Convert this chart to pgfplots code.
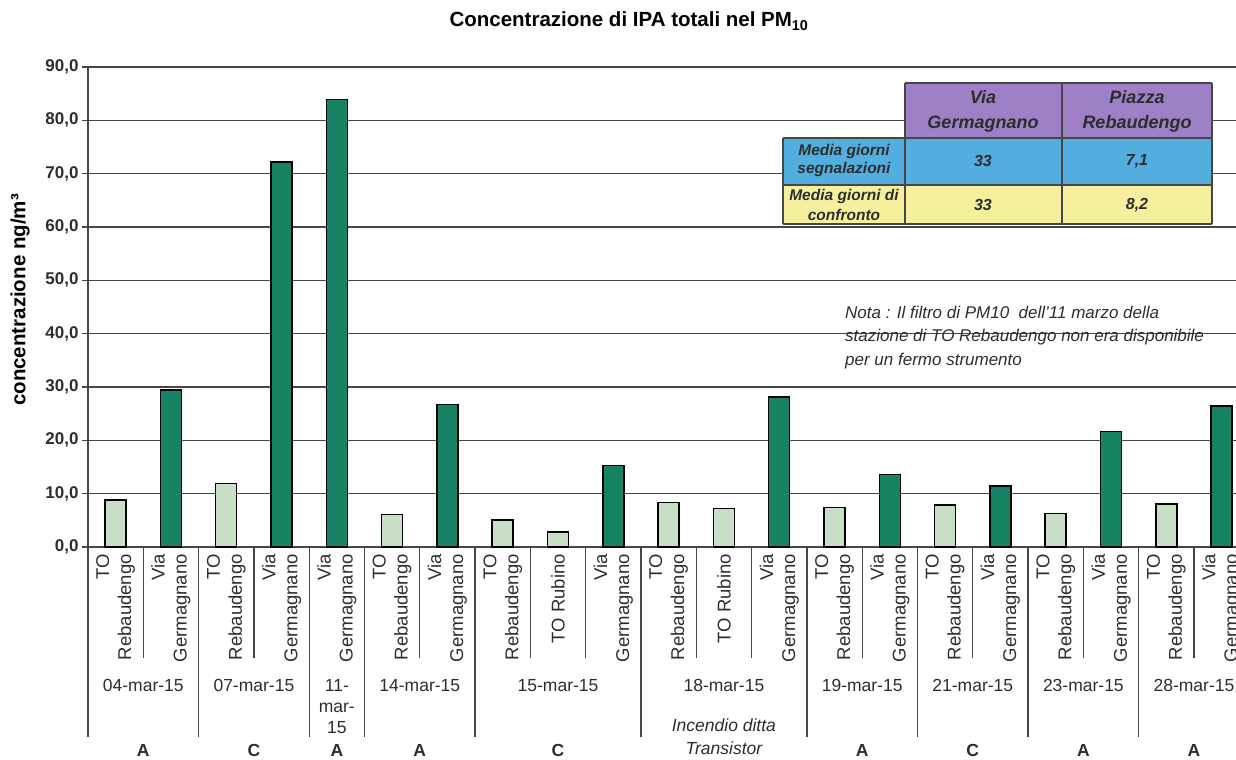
\documentclass[border=0pt]{standalone}
\usepackage{fontspec}
\setmainfont{Liberation Sans}
\usepackage{pgfplots}
\pgfplotsset{compat=1.18}
\definecolor{darkbar}{RGB}{24,130,100}
\definecolor{lightbar}{RGB}{200,222,198}
\definecolor{txt}{RGB}{45,45,45}
\definecolor{gridc}{RGB}{70,70,70}
\definecolor{hdr}{RGB}{158,128,198}
\definecolor{rowa}{RGB}{82,174,222}
\definecolor{rowb}{RGB}{246,240,158}
\tikzset{
  stn/.style={rotate=90, anchor=east, align=right, font=\fontsize{18.5bp}{22bp}\selectfont, text=txt, inner sep=0pt},
  dt/.style={anchor=base, font=\fontsize{17.5bp}{20bp}\selectfont, text=txt, inner sep=0pt},
  let/.style={anchor=base, font=\fontsize{17.5bp}{20bp}\selectfont\bfseries, text=txt, inner sep=0pt},
  sep/.style={gridc, line width=1.3bp},
}
\begin{document}
\begin{tikzpicture}
\begin{axis}[
  at={(88bp,213bp)}, anchor=south west,
  width=1148bp, height=480bp, scale only axis,
  xmin=-0.5, xmax=20.26, ymin=0, ymax=90,
  ytick={0,10,...,90},
  xtick=\empty,
  axis lines=left, axis line style={-, gridc, line width=1.5bp},
  ymajorgrids, grid style={gridc, line width=1.3bp},
  tick align=outside, major tick length=6bp, tick style={gridc, line width=1.3bp},
  yticklabel style={font=\fontsize{17bp}{20bp}\selectfont\bfseries, text=txt,
    /pgf/number format/fixed, /pgf/number format/fixed zerofill,
    /pgf/number format/precision=1, /pgf/number format/use comma,
    /pgf/number format/assume math mode=true},
  ybar, bar width=21bp,
  clip=false,
]
\addplot[fill=lightbar, draw=black, line width=1.5bp, bar shift=0pt] coordinates {
  (0,8.8) (2,11.9) (5,6.1) (7,5.1) (8,2.8) (10,8.3) (11,7.2) (13,7.4) (15,7.9) (17,6.3) (19,8.1)};
\addplot[fill=darkbar, draw=black, line width=1.5bp, bar shift=0pt] coordinates {
  (1,29.4) (3,72.2) (4,83.9) (6,26.7) (9,15.3) (12,28.1) (14,13.6) (16,11.4) (18,21.7) (20,26.4)};
% separators
\pgfplotsinvokeforeach{0.5,2.5,5.5,7.5,8.5,10.5,11.5,13.5,15.5,17.5,19.5}{
  \draw[sep] (axis cs:#1,0) -- ([yshift=-111bp]axis cs:#1,0);
}
\pgfplotsinvokeforeach{-0.5,1.5,3.5,4.5,6.5,9.5,12.5,14.5,16.5,18.5}{
  \draw[sep] (axis cs:#1,0) -- ([yshift=-190bp]axis cs:#1,0);
}
% station labels
\node[stn] at ([yshift=-7bp]axis cs:0,0) {TO\\Rebaudengo};
\node[stn] at ([yshift=-7bp]axis cs:1,0) {Via\\Germagnano};
\node[stn] at ([yshift=-7bp]axis cs:2,0) {TO\\Rebaudengo};
\node[stn] at ([yshift=-7bp]axis cs:3,0) {Via\\Germagnano};
\node[stn] at ([yshift=-7bp]axis cs:4,0) {Via\\Germagnano};
\node[stn] at ([yshift=-7bp]axis cs:5,0) {TO\\Rebaudengo};
\node[stn] at ([yshift=-7bp]axis cs:6,0) {Via\\Germagnano};
\node[stn] at ([yshift=-7bp]axis cs:7,0) {TO\\Rebaudengo};
\node[stn] at ([yshift=-7bp]axis cs:8,0) {TO Rubino};
\node[stn] at ([yshift=-7bp]axis cs:9,0) {Via\\Germagnano};
\node[stn] at ([yshift=-7bp]axis cs:10,0) {TO\\Rebaudengo};
\node[stn] at ([yshift=-7bp]axis cs:11,0) {TO Rubino};
\node[stn] at ([yshift=-7bp]axis cs:12,0) {Via\\Germagnano};
\node[stn] at ([yshift=-7bp]axis cs:13,0) {TO\\Rebaudengo};
\node[stn] at ([yshift=-7bp]axis cs:14,0) {Via\\Germagnano};
\node[stn] at ([yshift=-7bp]axis cs:15,0) {TO\\Rebaudengo};
\node[stn] at ([yshift=-7bp]axis cs:16,0) {Via\\Germagnano};
\node[stn] at ([yshift=-7bp]axis cs:17,0) {TO\\Rebaudengo};
\node[stn] at ([yshift=-7bp]axis cs:18,0) {Via\\Germagnano};
\node[stn] at ([yshift=-7bp]axis cs:19,0) {TO\\Rebaudengo};
\node[stn] at ([yshift=-7bp]axis cs:20,0) {Via\\Germagnano};
% dates
\node[dt] at ([yshift=-144bp]axis cs:0.5,0) {04-mar-15};
\node[dt] at ([yshift=-144bp]axis cs:2.5,0) {07-mar-15};
\node[dt] at ([yshift=-144bp]axis cs:4,0) {11-};
\node[dt] at ([yshift=-165bp]axis cs:4,0) {mar-};
\node[dt] at ([yshift=-186bp]axis cs:4,0) {15};
\node[dt] at ([yshift=-144bp]axis cs:5.5,0) {14-mar-15};
\node[dt] at ([yshift=-144bp]axis cs:8,0) {15-mar-15};
\node[dt] at ([yshift=-144bp]axis cs:11,0) {18-mar-15};
\node[dt] at ([yshift=-144bp]axis cs:13.5,0) {19-mar-15};
\node[dt] at ([yshift=-144bp]axis cs:15.5,0) {21-mar-15};
\node[dt] at ([yshift=-144bp]axis cs:17.5,0) {23-mar-15};
\node[dt] at ([yshift=-144bp]axis cs:19.5,0) {28-mar-15};
% letters
\node[let] at ([yshift=-209bp]axis cs:0.5,0) {A};
\node[let] at ([yshift=-209bp]axis cs:2.5,0) {C};
\node[let] at ([yshift=-209bp]axis cs:4,0) {A};
\node[let] at ([yshift=-209bp]axis cs:5.5,0) {A};
\node[let] at ([yshift=-209bp]axis cs:8,0) {C};
\node[dt, font=\fontsize{17.5bp}{20bp}\selectfont\itshape] at ([yshift=-184bp]axis cs:11,0) {Incendio ditta};
\node[dt, font=\fontsize{17.5bp}{20bp}\selectfont\itshape] at ([yshift=-207bp]axis cs:11,0) {Transistor};
\node[let] at ([yshift=-209bp]axis cs:13.5,0) {A};
\node[let] at ([yshift=-209bp]axis cs:15.5,0) {C};
\node[let] at ([yshift=-209bp]axis cs:17.5,0) {A};
\node[let] at ([yshift=-209bp]axis cs:19.5,0) {A};
\end{axis}
\begin{scope}[x=1bp, y=-1bp, shift={(0,760bp)}]
% title
\node[anchor=base, inner sep=0pt, text=black, font=\fontsize{20.5bp}{24bp}\selectfont\bfseries] at (629,27) {Concentrazione di IPA totali nel PM\textsubscript{10}};
% y label
\node[rotate=90, inner sep=0pt, text=black, font=\fontsize{20.5bp}{24bp}\selectfont\bfseries] at (20,300) {concentrazione ng/m³};
% table
\fill[hdr] (905,83) rectangle (1212,138);
\fill[rowa] (783,138) rectangle (1212,185);
\fill[rowb] (783,185) rectangle (1212,224);
\draw[sep] (905,83) -- (1212,83);
\draw[sep] (783,138) -- (1212,138);
\draw[sep] (783,185) -- (1212,185);
\draw[sep] (783,224) -- (1212,224);
\draw[sep] (783,138) -- (783,224);
\draw[sep] (905,83) -- (905,224);
\draw[sep] (1062,83) -- (1062,224);
\draw[sep] (1212,83) -- (1212,224);
\begin{scope}[every node/.style={inner sep=0pt, align=center, text=txt}]
\node[font=\fontsize{18bp}{25bp}\selectfont\bfseries\itshape] at (983,111) {Via\\Germagnano};
\node[font=\fontsize{18bp}{25bp}\selectfont\bfseries\itshape] at (1137,111) {Piazza\\Rebaudengo};
\node[font=\fontsize{15.5bp}{18bp}\selectfont\bfseries\itshape] at (844,161) {Media giorni\\segnalazioni};
\node[font=\fontsize{15.5bp}{20bp}\selectfont\bfseries\itshape] at (844,205) {Media giorni di\\confronto};
\node[font=\fontsize{16bp}{20bp}\selectfont\bfseries\itshape] at (983,161) {33};
\node[font=\fontsize{16bp}{20bp}\selectfont\bfseries\itshape] at (1137,161) {7,1};
\node[font=\fontsize{16bp}{20bp}\selectfont\bfseries\itshape] at (983,205) {33};
\node[font=\fontsize{16bp}{20bp}\selectfont\bfseries\itshape] at (1137,205) {8,2};
\end{scope}
% note
\begin{scope}[every node/.style={inner sep=0pt, anchor=base west, text=txt, font=\fontsize{17bp}{20bp}\selectfont\itshape}]
\node at (845,319) {Nota : Il filtro di PM10\ \ dell'11 marzo della};
\node at (845,342) {stazione di TO Rebaudengo non era disponibile};
\node at (845,366) {per un fermo strumento};
\end{scope}
\end{scope}
\pgfresetboundingbox
\path (0,0) rectangle (1236bp,760bp);
\end{tikzpicture}
\end{document}
